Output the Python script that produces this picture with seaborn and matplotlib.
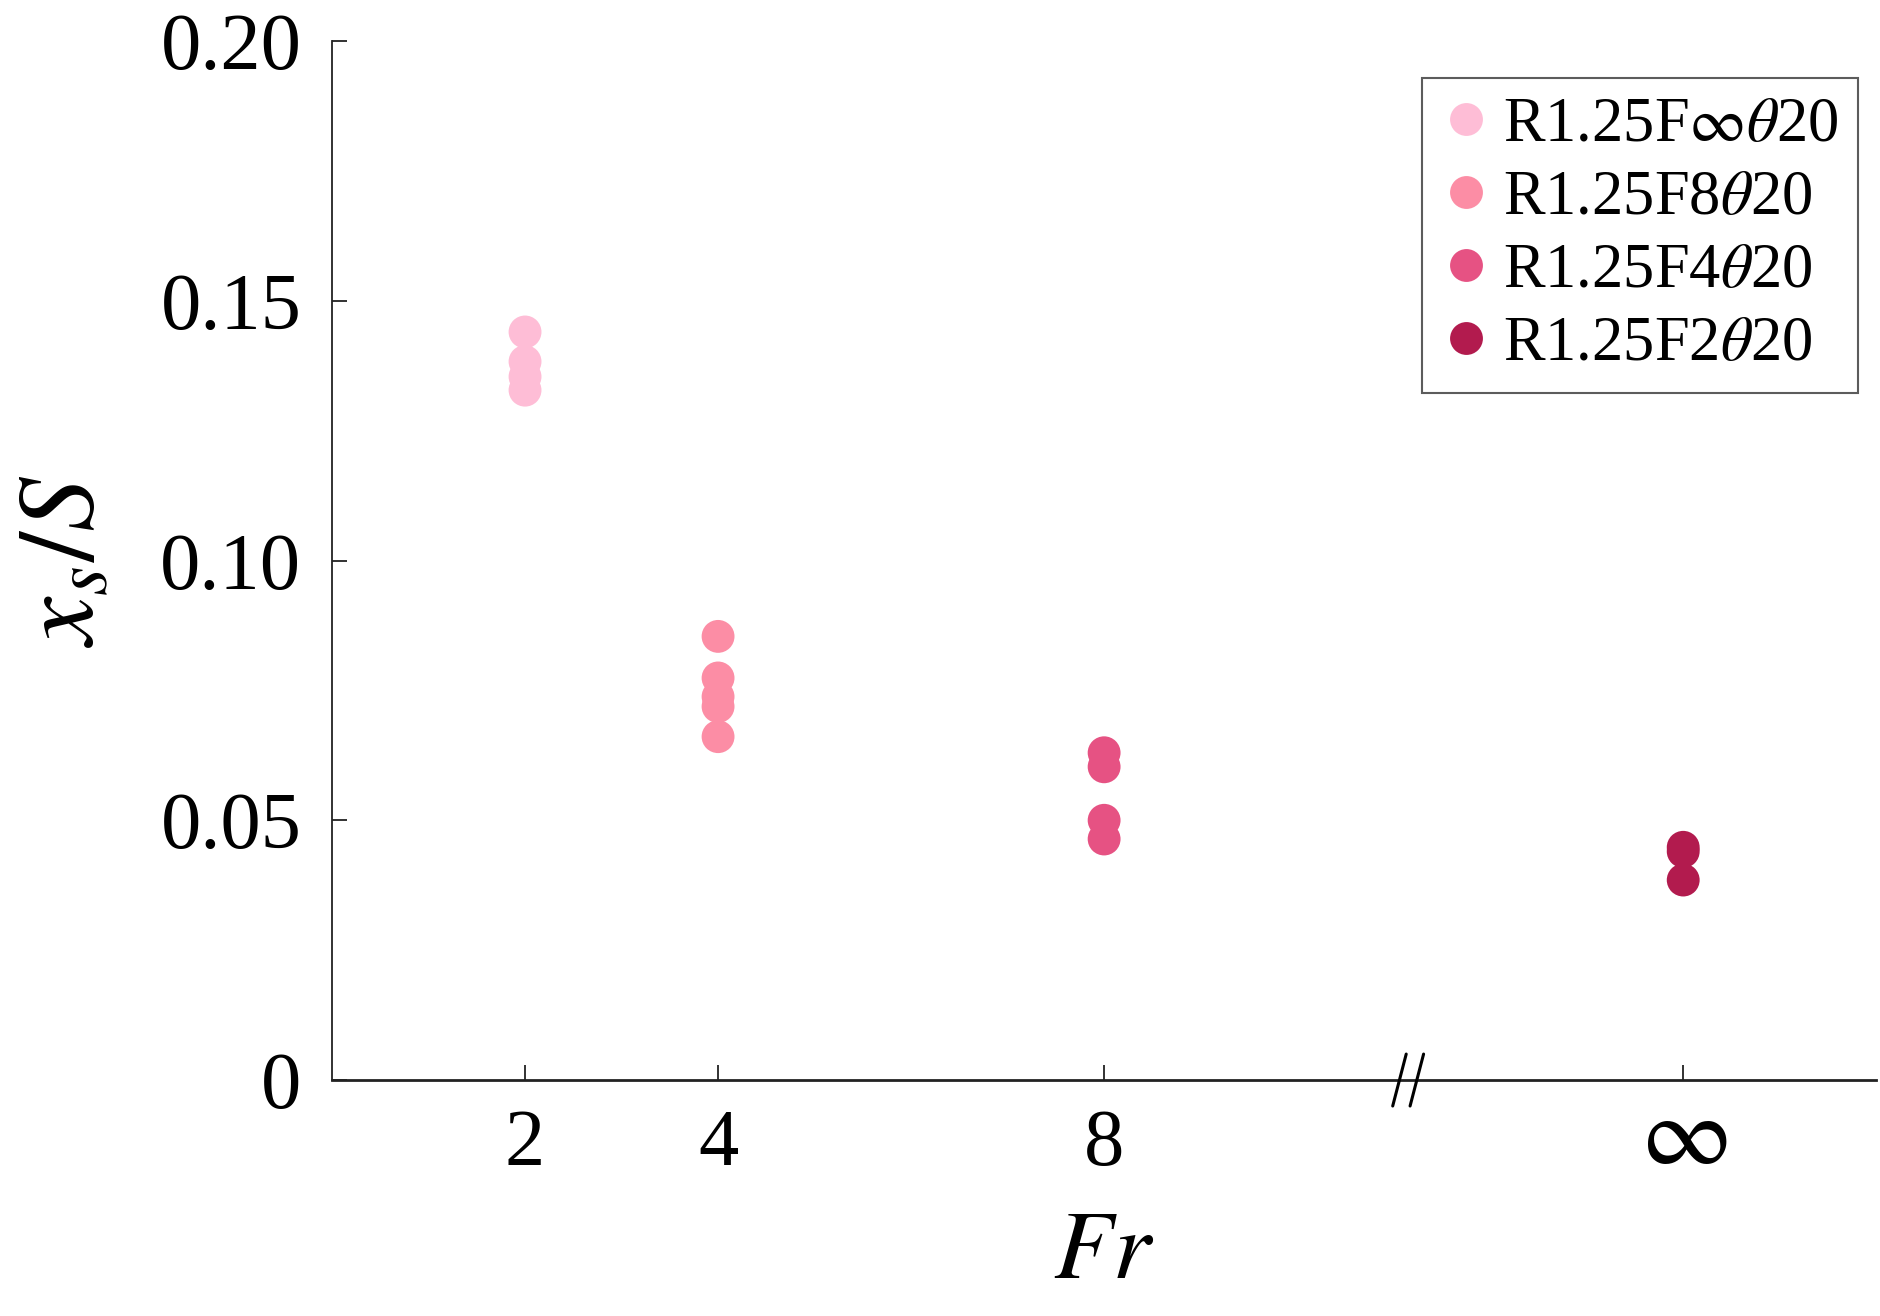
import pandas as pd
import matplotlib
matplotlib.use("Agg")
import matplotlib.pyplot as plt
import matplotlib.transforms as mtransforms
import seaborn as sns

# Data
case_labels = [r"R1.25F$\infty\theta$20", r"R1.25F8$\theta$20",
               r"R1.25F4$\theta$20", r"R1.25F2$\theta$20"]
case_colors = ["#FEBDD6", "#FC8DA5", "#E65283", "#B21B4E"]
fr_position = [2, 4, 8, 14]          # infinity is drawn at 14 after the axis break
fr_ticklabels = ["2", "4", "8", r"$\infty$"]

xs_fr2 = [0.1440, 0.1383, 0.1354, 0.1328]
xs_fr4 = [0.0854, 0.0774, 0.0738, 0.0719, 0.0661]
xs_fr8 = [0.0630, 0.0603, 0.0500, 0.0464]
xs_frinf = [0.0448, 0.0440, 0.0385]

y_ticks = [0, 0.05, 0.10, 0.15, 0.20]
y_ticklabels = ["0", "0.05", "0.10", "0.15", "0.20"]

rows = []
for label, pos, vals in zip(case_labels, fr_position, [xs_fr2, xs_fr4, xs_fr8, xs_frinf]):
    for v in vals:
        rows.append({"case": label, "Fr": pos, "xs": v})
df = pd.DataFrame(rows)

sns.set_style("white", {"xtick.bottom": True, "ytick.left": True,
                        "text.color": "black", "axes.labelcolor": "black",
                        "xtick.color": "black", "ytick.color": "black"})
plt.rcParams["font.family"] = ["Liberation Serif", "DejaVu Serif"]
plt.rcParams["mathtext.fontset"] = "stix"

fig = plt.figure(figsize=(18.8, 13.16), dpi=100)
ax = fig.add_axes([0.1766, 0.1793, 0.8214, 0.7895])

sns.scatterplot(data=df, x="Fr", y="xs", hue="case", hue_order=case_labels,
                palette=dict(zip(case_labels, case_colors)), s=560,
                linewidth=0, alpha=1, ax=ax, zorder=3)

ax.set_xlim(0, 16)
ax.set_ylim(0, 0.2)
ax.set_xticks(fr_position)
ax.set_xticklabels(fr_ticklabels)
ax.set_yticks(y_ticks)
ax.set_yticklabels(y_ticklabels)
ax.tick_params(axis="both", direction="in", length=11, width=1.3, labelsize=58,
               color="#222222", labelcolor="black")
ax.tick_params(axis="y", pad=22)
ax.tick_params(axis="x", pad=21)
inf_label = ax.get_xticklabels()[-1]
inf_label.set_fontsize(72)
inf_label.set_transform(inf_label.get_transform()
                        + mtransforms.ScaledTranslation(0, 10 / 72, fig.dpi_scale_trans))

for side in ["top", "right"]:
    ax.spines[side].set_visible(False)
for side in ["left", "bottom"]:
    ax.spines[side].set_color("#222222")
    ax.spines[side].set_linewidth(1.3)
ax.spines["bottom"].set_linewidth(2)

ax.set_xlabel(r"$Fr$", fontsize=70, labelpad=18)
ax.set_ylabel(r"$x_s/S$", fontsize=78, labelpad=32)

# axis break mark
trans = mtransforms.blended_transform_factory(ax.transData, ax.transAxes)
for dx in [-0.09, 0.09]:
    ax.plot([11.08 + dx, 11.22 + dx], [-0.025, 0.025], color="black", lw=2.2,
            transform=trans, clip_on=False, zorder=5)

leg = ax.legend(loc="upper right", bbox_to_anchor=(0.988, 0.964), borderaxespad=0,
                fontsize=45, frameon=True, fancybox=False, handletextpad=0.2,
                borderpad=0.3, labelspacing=0.24, handlelength=0.8, markerscale=1.0)
leg.get_frame().set_edgecolor("#333333")
leg.get_frame().set_linewidth(1.5)
for t in leg.get_texts():
    t.set_color("black")

fig.savefig("out.png", dpi=100, facecolor="white")
